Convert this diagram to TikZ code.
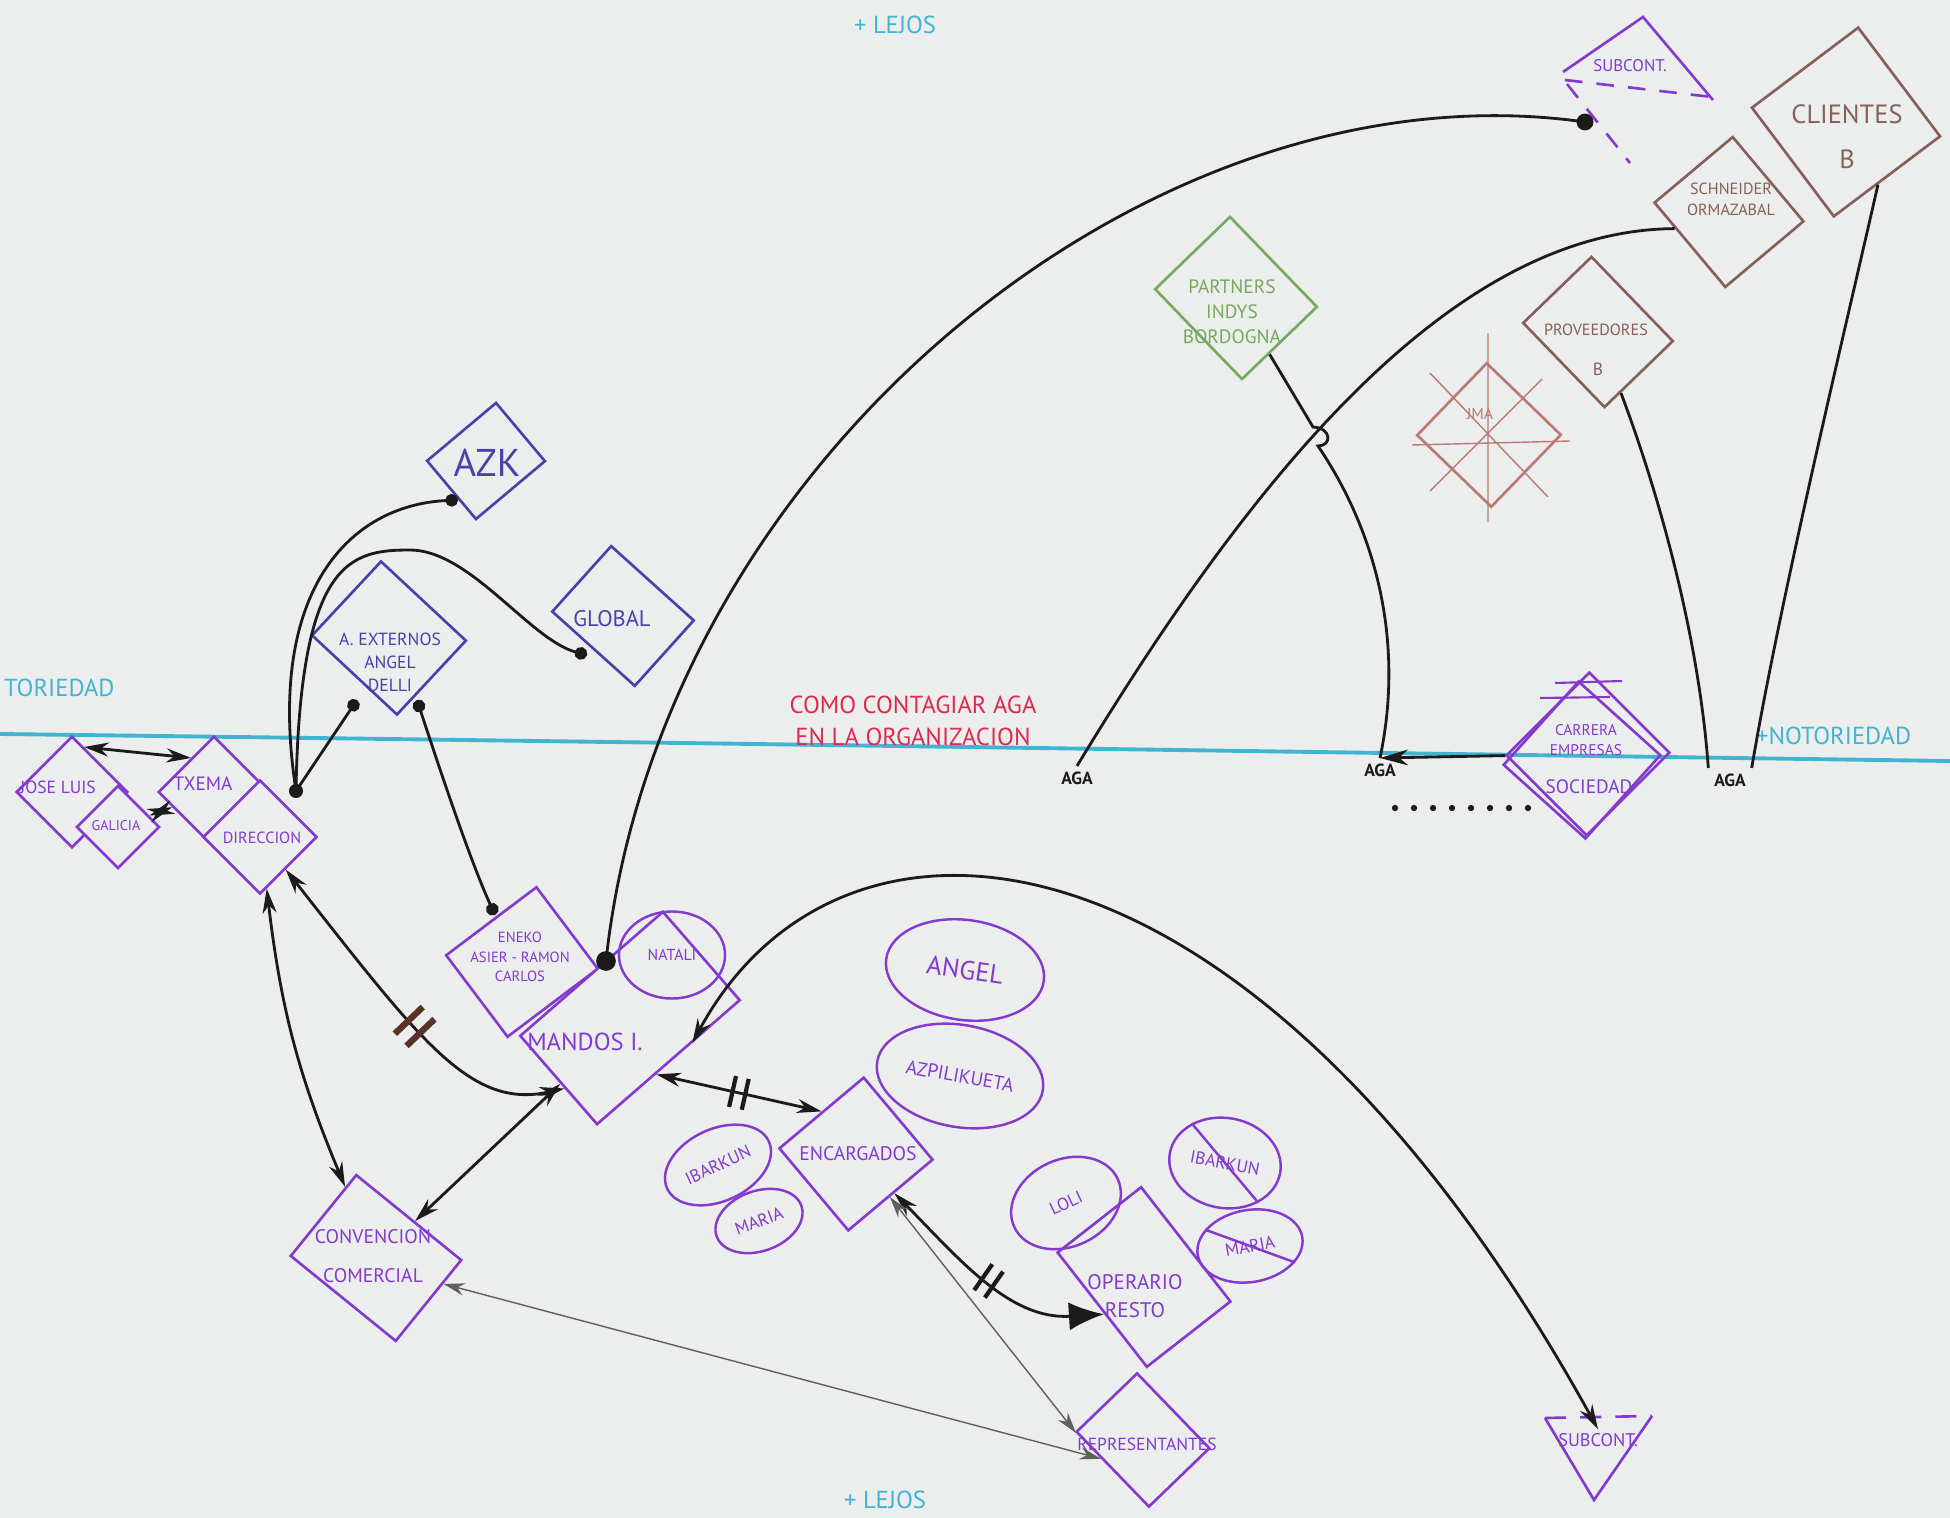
\documentclass[tikz,border=0pt]{standalone}
\usepackage{fontspec}
\setmainfont{PT Sans}
\usetikzlibrary{arrows.meta,positioning,shapes.geometric}

\definecolor{paper}{RGB}{235,238,237}
\definecolor{mkpurple}{RGB}{132,58,204}
\definecolor{mkblue}{RGB}{74,64,172}
\definecolor{mkteal}{RGB}{64,180,208}
\definecolor{mkred}{RGB}{222,42,78}
\definecolor{mkgreen}{RGB}{120,168,92}
\definecolor{mkbrown}{RGB}{134,96,88}
\definecolor{mkrose}{RGB}{186,122,116}
\definecolor{mkdark}{RGB}{28,26,26}
\definecolor{mkbar}{RGB}{88,52,40}

\begin{document}
\begin{tikzpicture}[x=0.01cm, y=-0.01cm,
    box/.style={
      rectangle,
      line width=0.75pt,
      inner sep=0pt},
    txt/.style={
      align=center,
      inner sep=1pt},
    ell_purple/.style={
      ellipse,
      draw=mkpurple,
      line width=0.7pt,
      text=mkpurple,
      inner sep=0pt,
      align=center},
    teal_txt/.style={
      text=mkteal,
      inner sep=1pt,
      font=\fontsize{7}{8}\selectfont},
    aga_lbl/.style={
      anchor=north,
      inner sep=1.5pt,
      text=mkdark,
      font=\bfseries\fontsize{5}{6}\selectfont},
    link/.style={
      draw=mkdark,
      line width=0.8pt},
    arrow_both/.style={
      link,
      >={Stealth[length=7pt,width=4pt]},
      <->},
    arrow_thin/.style={
      draw=mkdark!70,
      line width=0.4pt,
      >={Stealth[length=6pt,width=3.5pt]},
      <->},
    pin_end/.style={
      link,
      -{Circle[length=3.6pt]}},
    pin_line/.style={
      link,
      {Circle[length=3.6pt]}-{Circle[length=3.6pt]}},
    bars/.style={
      sloped,
      inner sep=0pt,
      text=mkdark}
  ]
  %paper
  \fill[paper] (0,0) rectangle (1950,1518);
  \useasboundingbox (0,0) rectangle (1950,1518);

  %notoriedad axis
  \draw[mkteal, line width=1.1pt] (0,734) .. controls (650,742) and (1300,752) .. (1950,761);

  %diamonds
  \foreach \nm/\px/\py/\wa/\wb/\rot/\col/\fil in {% name/x/y/side a/side b/angle/colour/fill
      jose/72/792/78/78/45/mkpurple/none,
      gal/118/827/58/58/45/mkpurple/paper,
      txema/214/792/78/78/45/mkpurple/none,
      dir/260/837/80/80/45/mkpurple/paper,
      azk/486/461/90/76/40/mkblue/none,
      aext/389/638/101/116/47/mkblue/none,
      glob/623/616/88/111/48/mkblue/none,
      osko/522/962/113/102/37/mkpurple/none,
      mandos/630/1018/189/117/41/mkpurple/paper,
      enc/856/1154/110/107/40/mkpurple/none,
      conv/376/1258/104/135/51/mkpurple/none,
      op/1144/1277/106/145/38/mkpurple/none,
      rep/1143/1440/84/104/44/mkpurple/none,
      carrera/1588/754/117/113/45/mkpurple/none,
      carrera_b/1582/760/112/110/48/mkpurple/none,
      partners/1236/298/104/125/44/mkgreen/none,
      prov/1598/332/95/117/44/mkbrown/none,
      jma/1489/435/100/103/46/mkrose/none,
      schn/1729/212/102/110/40/mkbrown/none,
      clients/1846/122/133/136/37/mkbrown/none}
    \node[box, draw=\col, fill=\fil, minimum width=\wa*0.01cm, minimum height=\wb*0.01cm, rotate=\rot] (\nm) at (\px,\py) {};

  \draw[mkrose, line width=0.4pt] (1488,333) -- (1488,522) (1412,445) -- (1570,441)
       (1430,373) -- (1548,497) (1542,379) -- (1430,491);
  \draw[mkpurple, line width=0.6pt] (1555,683) -- (1622,681) (1540,698) -- (1610,697);

  %triangles
  \draw[mkpurple, line width=0.75pt] (1563,72) -- (1643,17) -- (1713,100);
  \draw[mkpurple, line width=0.75pt, dash pattern=on 5pt off 4pt] (1565,80) -- (1712,97) (1567,84) -- (1630,163);
  \draw[mkpurple, line width=0.75pt] (1545,1418) -- (1594,1500) -- (1652,1416);
  \draw[mkpurple, line width=0.75pt, dash pattern=on 6pt off 4pt] (1545,1418) -- (1652,1416);

  %texts
  \foreach \nm/\px/\py/\fsz/\col/\txt in {% name/x/y/size/colour/text
      jose_t/58/787/5/mkpurple/{JOSE LUIS},
      gal_t/116/826/4/mkpurple/{GALICIA},
      txema_t/203/784/5.5/mkpurple/{TXEMA},
      dir_t/262/838/4.6/mkpurple/{DIRECCION},
      azk_t/487/463/11/mkblue/{AZK},
      aext_t/390/662/5/mkblue/{A. EXTERNOS\\ANGEL\\DELLI},
      glob_t/612/619/6.4/mkblue/{GLOBAL},
      osko_t/520/957/4.2/mkpurple/{ENEKO\\ASIER - RAMON\\CARLOS},
      mandos_t/585/1042/7/mkpurple/{MANDOS I.},
      enc_t/858/1154/5.6/mkpurple/{ENCARGADOS},
      conv_t/373/1256/5.6/mkpurple/{CONVENCION\\[4pt]COMERCIAL},
      op_t/1135/1296/6/mkpurple/{OPERARIO\\RESTO},
      rep_t/1147/1444/5/mkpurple/{REPRESENTANTES},
      carrera_t/1586/740/4.4/mkpurple/{CARRERA\\EMPRESAS},
      soc_t/1589/787/5.5/mkpurple/{SOCIEDAD},
      partners_t/1232/312/5.5/mkgreen/{PARTNERS\\INDYS\\BORDOGNA},
      prov_t/1596/330/4.6/mkbrown/{PROVEEDORES},
      provb_t/1598/369/5/mkbrown/{B},
      jma_t/1480/414/4.5/mkrose/{JMA},
      schn_t/1731/199/4.6/mkbrown/{SCHNEIDER\\ORMAZABAL},
      clients_t/1847/137/7.5/mkbrown/{CLIENTES\\[3pt]B},
      subc_top_t/1630/66/4.8/mkpurple/{SUBCONT.},
      subc_bot/1598/1440/5.2/mkpurple/{SUBCONT.}}
    \node[txt, text=\col, font={\fontsize{\fsz}{\fsz}\linespread{1.3}\selectfont}] (\nm) at (\px,\py) {\txt};

  %people
  \node[ell_purple, minimum width=1.06cm, minimum height=0.87cm, font=\fontsize{4.5}{5}\selectfont] (natali) at (672,955) {NATALI};
  \node[ell_purple, minimum width=1.59cm, minimum height=1.0cm, rotate=-8, font=\fontsize{7.5}{8}\selectfont] (angel) at (965,970) {ANGEL};
  \node[ell_purple, minimum width=1.68cm, minimum height=1.02cm, rotate=-10, font=\fontsize{5.5}{6}\selectfont] (azpi) at (960,1076) {AZPILIKUETA};
  \node[ell_purple, minimum width=1.12cm, minimum height=0.72cm, rotate=25, font=\fontsize{5}{6}\selectfont] (ibar) at (718,1165) {IBARKUN};
  \node[ell_purple, minimum width=0.9cm, minimum height=0.6cm, rotate=20, font=\fontsize{5}{6}\selectfont] (maria) at (759,1221) {MARIA};
  \node[ell_purple, minimum width=1.14cm, minimum height=0.87cm, rotate=25, font=\fontsize{5}{6}\selectfont] (loli) at (1066,1203) {LOLI};
  \node[ell_purple, minimum width=1.12cm, minimum height=0.9cm, rotate=-10, font=\fontsize{5}{6}\selectfont] (ibar2) at (1225,1163) {IBARKUN};
  \node[ell_purple, minimum width=1.06cm, minimum height=0.72cm, rotate=10, font=\fontsize{5}{6}\selectfont] (maria2) at (1250,1246) {MARIA};
  \draw[mkpurple, line width=0.7pt] (ibar2.140) -- (ibar2.-40) (maria2.150) -- (maria2.-30);

  %labels
  \node[teal_txt] (lejos_top) at (895,25) {+ LEJOS};
  \node[teal_txt] (lejos_bot) at (885,1500) {+ LEJOS};
  \node[teal_txt, anchor=west] (notor_l) at (0,688) {TORIEDAD};
  \node[teal_txt, anchor=west] (notor_r) at (1752,736) {+NOTORIEDAD};
  \node[txt, text=mkred, font=\fontsize{7}{9}\selectfont] (title) at (913,721) {COMO CONTAGIAR AGA\\EN LA ORGANIZACION};
  \node[aga_lbl] (aga1) at (1077,766) {AGA};
  \node[aga_lbl] (aga2) at (1380,758) {AGA};
  \node[aga_lbl] (aga3) at (1730,768) {AGA};
  \foreach \k in {0,...,7}
    \fill[mkdark] (1395+\k*19,808) circle (0.9pt);

  %pins
  \coordinate (dir_pin) at (296,791);
  \coordinate (aext_pin1) at (357,700);
  \coordinate (aext_pin2) at (417,700);
  \coordinate (azk_pin) at (458,500);
  \coordinate (glob_pin) at (587,655);
  \coordinate (osko_pin) at (495,915);
  \coordinate (mandos_pin) at (606,961);
  \coordinate (subc_pin) at (1585,122);

  \draw[pin_end] (dir_pin) -- (aext_pin1);
  \draw[pin_end] (dir_pin) .. controls (265,590) and (350,505) .. (azk_pin);
  \draw[pin_end] (dir_pin) .. controls (300,560) and (350,550) .. (410,550)
                 .. controls (470,550) and (530,640) .. (glob_pin);
  \fill[mkdark] (dir_pin) circle (2pt);
  \draw[pin_line] (aext_pin2) .. controls (440,770) and (470,860) .. (osko_pin);

  %far side
  \draw[link] (mandos_pin) .. controls (660,460) and (1150,60) .. (subc_pin);
  \fill[mkdark] (mandos_pin) circle (2.8pt);
  \fill[mkdark] (subc_pin) circle (2.4pt);
  \draw[link] (aga1.north) .. controls (1250,480) and (1450,230) .. (schn.157);
  \draw[link] (partners) -- (1313,427) .. controls (1332,428) and (1332,446) .. (1318,446)
              .. controls (1375,530) and (1405,640) .. (aga2.north);
  \draw[link] (prov) .. controls (1665,510) and (1700,650) .. (aga3.north west);
  \draw[link] (clients.-100) .. controls (1845,330) and (1780,600) .. (aga3.north east);
  \draw[link, -{Stealth[length=8pt,width=4.5pt]}] (carrera) -- (aga2.north);

  %near side
  \draw[arrow_both] (jose.30) -- (txema.79);
  \draw[arrow_both] (gal) -- (txema);
  \draw[arrow_both] (dir) .. controls (420,1040) and (470,1110) .. (mandos.186)
       node[bars, pos=0.4, text=mkbar] (cut1) {\rule{1.8pt}{11pt}\hspace{3pt}\rule{1.8pt}{11pt}};
  \draw[arrow_both] (dir) to[bend right=8] (conv);
  \draw[arrow_both] (conv) -- (mandos);
  \draw[arrow_both] (mandos.-106) -- node[bars, pos=0.5] (cut2) {\rule{1.2pt}{9pt}\hspace{2.5pt}\rule{1.2pt}{9pt}} (enc.89);
  \draw[link, arrows={Stealth[length=7pt,width=4pt]-Latex[length=10pt,width=8pt]}] (enc) .. controls (960,1260) and (1010,1320) .. (op.185)
       node[bars, pos=0.5] (cut3) {\rule{1.2pt}{9pt}\hspace{2.5pt}\rule{1.2pt}{9pt}};
  \draw[arrow_thin] (enc) -- (rep.130);
  \draw[arrow_thin] (conv.-72) -- (rep.160);
  \draw[arrow_both] (mandos.-63) .. controls (840,770) and (1250,800) .. (subc_bot.north);
\end{tikzpicture}
\end{document}
